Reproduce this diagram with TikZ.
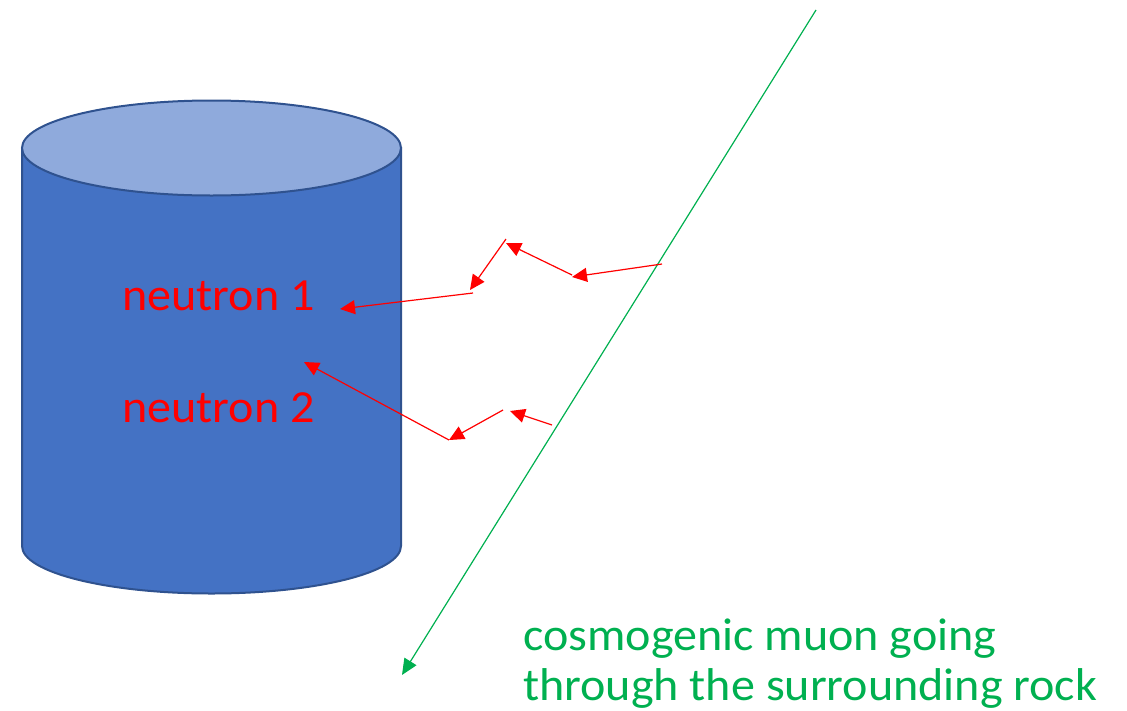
\documentclass[tikz,border=0pt]{standalone}
\usepackage{fontspec}
\setmainfont{Carlito}
\usetikzlibrary{arrows.meta}
\definecolor{cylbody}{HTML}{4472C4}
\definecolor{cyltop}{HTML}{8FAADC}
\definecolor{cyledge}{HTML}{2F528F}
\definecolor{muongreen}{HTML}{00B050}
\tikzset{
  redarrow/.style={draw=red, line width=1.2pt, -{Triangle[length=15pt,width=14pt]}},
  muonarrow/.style={draw=muongreen, line width=1.2pt, -{Triangle[length=16pt,width=14pt]}},
  bigtext/.style={inner sep=0pt, anchor=base west, xscale=1.045, font=\fontsize{46}{50}\selectfont},
}
\begin{document}
\begin{tikzpicture}[x=1pt,y=-1pt]
\useasboundingbox (0,0) rectangle (1127,710);
% cylinder
\path[fill=cylbody, draw=cyledge, line width=2pt]
  (22,148) -- (22,546) arc[start angle=180, end angle=360, x radius=189.5, y radius=-47.5] -- (401,148) -- cycle;
\path[fill=cyltop, draw=cyledge, line width=2pt] (211.5,148) ellipse[x radius=189.5, y radius=47.5];
% texts
\node[bigtext, text=red] (n1) at (122,310) {neutron 1};
\node[bigtext, text=red] (n2) at (122,422) {neutron 2};
\node[bigtext, text=muongreen] (m1) at (523,650) {cosmogenic muon going};
\node[bigtext, text=muongreen] (m2) at (523,700) {through the surrounding rock};
% muon
\coordinate (mu0) at (816,10);
\coordinate (mu1) at (402,675);
\draw[muonarrow] (mu0) -- (mu1);
% neutron 1 path
\coordinate (a0) at (662,264);
\coordinate (a1) at (572,277);
\coordinate (b0) at (572,275);
\coordinate (b1) at (506,243);
\coordinate (c0) at (506,239);
\coordinate (c1) at (470,290);
\coordinate (d0) at (473,293);
\coordinate (d1) at (340,309);
\draw[redarrow] (a0) -- (a1);
\draw[redarrow] (b0) -- (b1);
\draw[redarrow] (c0) -- (c1);
\draw[redarrow] (d0) -- (d1);
% neutron 2 path
\coordinate (e0) at (552,425);
\coordinate (e1) at (510,411);
\coordinate (f0) at (503,410);
\coordinate (f1) at (449,440);
\coordinate (g0) at (449,440);
\coordinate (g1) at (304,362);
\draw[redarrow] (e0) -- (e1);
\draw[redarrow] (f0) -- (f1);
\draw[redarrow] (g0) -- (g1);
\end{tikzpicture}
\end{document}
